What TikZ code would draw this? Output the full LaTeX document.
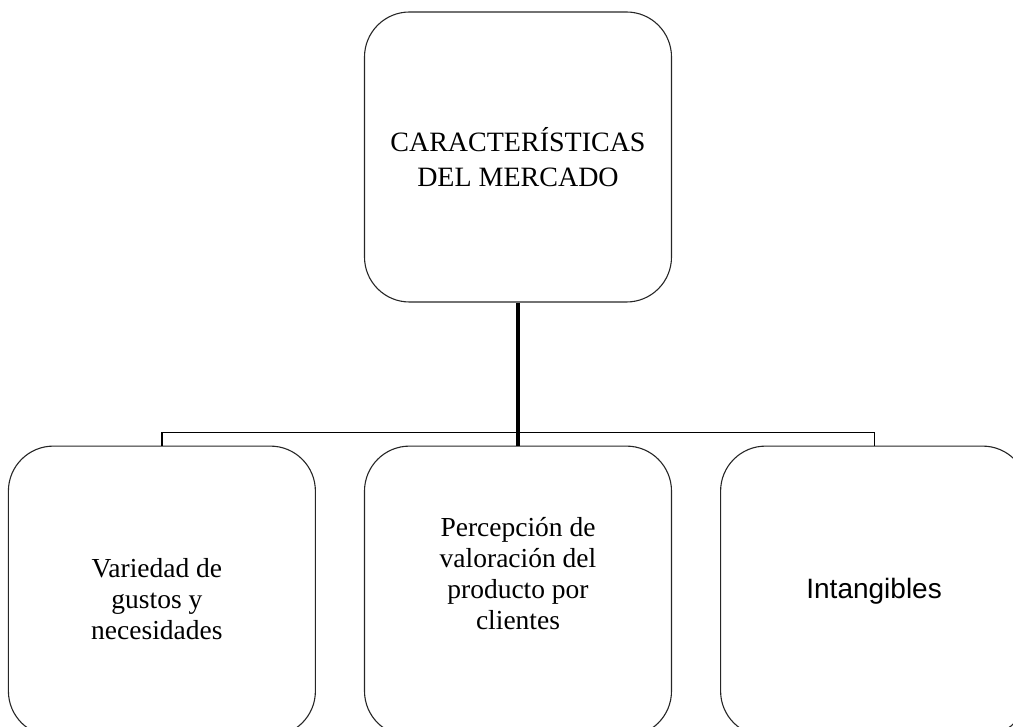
\documentclass[tikz,border=0pt]{standalone}
\usepackage{fontspec}
\setmainfont{Liberation Serif}
\setsansfont{Liberation Sans}
\usetikzlibrary{positioning, calc}
\tikzset{
  caja/.style={
    rectangle, rounded corners=45pt, draw=black!85, line width=1.1pt,
    minimum width=307pt, minimum height=290pt, inner sep=0pt
  },
  rotulo/.style={align=center, font=\fontsize{27.5}{31}\selectfont},
  tronco/.style={line width=4pt},
  rama/.style={line width=1.2pt}
}

\begin{document}
\begin{tikzpicture}[x=1pt, y=1pt, node distance=143pt and 48pt]
\useasboundingbox (0,0) rectangle (1013,-727);
\node[caja, align=center, font=\fontsize{28}{35}\selectfont] (mercado) at (518,-157)
   {CARACTERÍSTICAS\\DEL MERCADO};
\node[caja, below=of mercado] (percepcion) {};
\node[caja, left=of percepcion] (variedad) {};
\node[caja, right=of percepcion] (intangibles) {};

\node[rotulo] (tvariedad) at ($(variedad.center)+(-5,-8)$)
   {Variedad de\\gustos y\\necesidades};
\node[rotulo] (tpercepcion) at ($(percepcion.center)+(0,18)$)
   {Percepción de\\valoración del\\producto por\\clientes};
\node[rotulo, font=\sffamily\fontsize{28}{33}\selectfont] (tintangibles) at (intangibles.center)
   {Intangibles};

\coordinate (cruce) at ($(percepcion.north)+(0,13)$);
\draw[rama] (variedad.north) |- (cruce) -| (intangibles.north);
\draw[tronco] (mercado.south) -- (percepcion.north);
\end{tikzpicture}
\end{document}
